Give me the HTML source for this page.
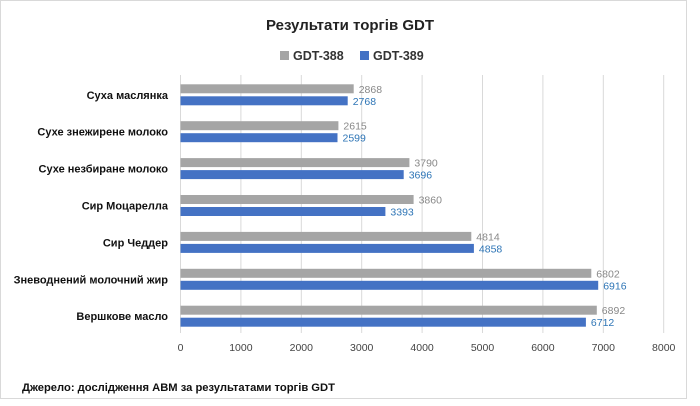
<!DOCTYPE html>
<html><head><meta charset="utf-8"><style>
body{margin:0;background:#fff;}
svg{display:block;font-family:"Liberation Sans",Calibri,sans-serif;}
</style></head><body>
<svg width="700" height="406" xmlns="http://www.w3.org/2000/svg">
<rect x="0.5" y="0.5" width="686" height="398" fill="#fff" stroke="#d9d9d9"/>
<text x="350" y="30" text-anchor="middle" font-size="15" font-weight="bold" fill="#222">Результати торгів GDT</text>
<rect x="280" y="51" width="9" height="9" fill="#a5a5a5"/>
<text x="293" y="60" font-size="12.5" font-weight="bold" fill="#333">GDT-388</text>
<rect x="360" y="51" width="9" height="9" fill="#4472c4"/>
<text x="373" y="60" font-size="12.5" font-weight="bold" fill="#333">GDT-389</text>
<g stroke="#d9d9d9" stroke-width="1">
<line x1="180.5" y1="75" x2="180.5" y2="333"/><line x1="240.9" y1="75" x2="240.9" y2="333"/><line x1="301.3" y1="75" x2="301.3" y2="333"/><line x1="361.7" y1="75" x2="361.7" y2="333"/><line x1="422.1" y1="75" x2="422.1" y2="333"/><line x1="482.5" y1="75" x2="482.5" y2="333"/><line x1="542.9" y1="75" x2="542.9" y2="333"/><line x1="603.3" y1="75" x2="603.3" y2="333"/><line x1="663.7" y1="75" x2="663.7" y2="333"/>
</g>
<g font-size="10.5" fill="#444" text-anchor="middle">
<text x="180.5" y="351">0</text><text x="240.9" y="351">1000</text><text x="301.3" y="351">2000</text><text x="361.7" y="351">3000</text><text x="422.1" y="351">4000</text><text x="482.5" y="351">5000</text><text x="542.9" y="351">6000</text><text x="603.3" y="351">7000</text><text x="663.7" y="351">8000</text>
</g>
<g fill="#a5a5a5">
<rect x="180.5" y="84.3" width="173.2" height="9"/>
<rect x="180.5" y="121.2" width="157.9" height="9"/>
<rect x="180.5" y="158.1" width="228.9" height="9"/>
<rect x="180.5" y="195.0" width="233.1" height="9"/>
<rect x="180.5" y="231.9" width="290.8" height="9"/>
<rect x="180.5" y="268.8" width="410.8" height="9"/>
<rect x="180.5" y="305.7" width="416.3" height="9"/>
</g>
<g fill="#4472c4">
<rect x="180.5" y="96.3" width="167.2" height="9"/>
<rect x="180.5" y="133.2" width="157.0" height="9"/>
<rect x="180.5" y="170.1" width="223.2" height="9"/>
<rect x="180.5" y="207.0" width="204.9" height="9"/>
<rect x="180.5" y="243.9" width="293.4" height="9"/>
<rect x="180.5" y="280.8" width="417.7" height="9"/>
<rect x="180.5" y="317.7" width="405.4" height="9"/>
</g>
<g font-size="10.5" fill="#888">
<text x="358.7" y="92.8">2868</text>
<text x="343.4" y="129.7">2615</text>
<text x="414.4" y="166.6">3790</text>
<text x="418.6" y="203.5">3860</text>
<text x="476.3" y="240.4">4814</text>
<text x="596.3" y="277.3">6802</text>
<text x="601.8" y="314.2">6892</text>
</g>
<g font-size="10.5" fill="#2e75b6">
<text x="352.7" y="104.8">2768</text>
<text x="342.5" y="141.7">2599</text>
<text x="408.7" y="178.6">3696</text>
<text x="390.4" y="215.5">3393</text>
<text x="478.9" y="252.4">4858</text>
<text x="603.2" y="289.3">6916</text>
<text x="590.9" y="326.2">6712</text>
</g>
<g font-size="11" font-weight="bold" fill="#111" text-anchor="end">
<text x="168" y="98.8">Суха маслянка</text>
<text x="168" y="135.7">Сухе знежирене молоко</text>
<text x="168" y="172.6">Сухе незбиране молоко</text>
<text x="168" y="209.5">Сир Моцарелла</text>
<text x="168" y="246.4">Сир Чеддер</text>
<text x="168" y="283.3">Зневоднений молочний жир</text>
<text x="168" y="320.2">Вершкове масло</text>
</g>
<text x="22" y="391" font-size="11.2" font-weight="bold" fill="#111">Джерело: дослідження АВМ за результатами торгів GDT</text>
</svg>
</body></html>
